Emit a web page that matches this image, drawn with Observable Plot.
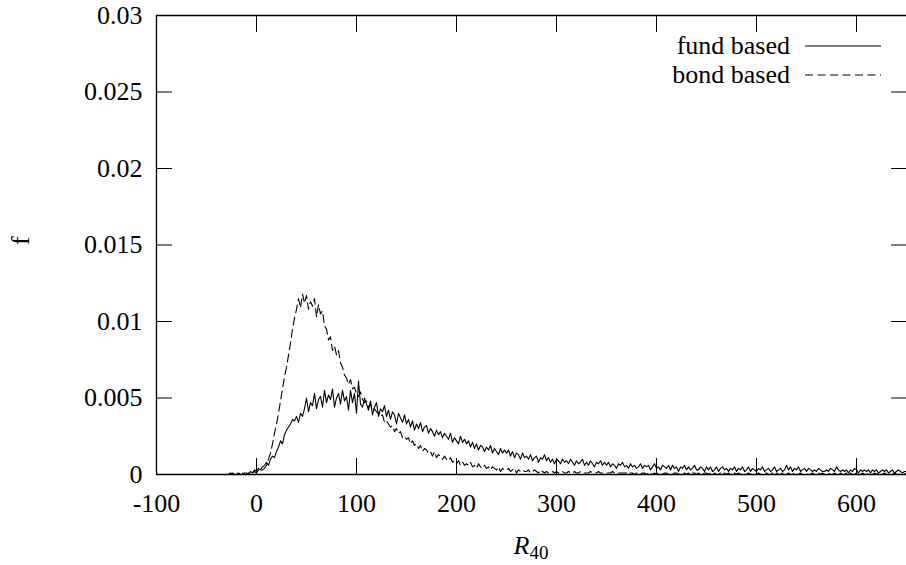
<!DOCTYPE html>
<html><head><meta charset="utf-8">
<script src="https://cdn.jsdelivr.net/npm/d3@7"></script>
<script src="https://cdn.jsdelivr.net/npm/@observablehq/plot@0.6"></script>
<style>
body{margin:0;background:#fff;}
#wrap{position:relative;width:906px;height:565px;}
#wrap svg text, #wrap svg tspan{font-family:'Liberation Serif', serif !important;}
</style></head><body><div id="wrap"></div>
<script>
// Histogram bins: R40 from -50 to 650 in steps of 2
const binStart = -50, binStep = 2;
// values in units of 1e-4
const fundBased = [
0,0,0,0,0,0,0,0,0,0,
0,0,1,0,0,0,1,0,0,1,
1,0,2,1,3,2,4,3,5,6,
8,6,10,12,11,15,18,22,20,26,
29,31,33,36,35,38,34,40,38,43,
50,41,47,45,53,43,49,51,44,55,
47,52,49,56,44,50,53,46,55,48,
51,42,55,47,53,40,61,46,44,50,
46,42,48,39,44,47,38,43,41,45,
38,42,36,41,39,33,40,37,34,39,
33,36,31,35,29,33,30,34,28,31,
32,27,30,28,25,29,26,28,24,27,
25,23,27,21,24,22,20,25,21,23,
20,22,18,21,17,20,16,19,18,15,
18,16,19,14,17,15,13,17,14,16,
14,16,12,15,11,14,13,10,14,11,
12,10,13,9,11,12,8,11,10,13,
9,11,8,10,7,10,9,7,10,8,
9,7,10,8,6,9,7,8,10,6,
8,6,9,7,5,8,7,9,6,8,
6,8,5,7,6,4,7,6,8,5,
6,4,7,5,6,4,5,7,4,6,
5,6,3,5,7,4,5,3,6,5,
4,6,3,6,4,5,2,5,4,6,
3,5,3,4,6,3,3,5,4,2,
5,3,5,2,3,5,2,4,5,3,
4,2,4,3,5,2,4,3,5,2,
3,5,2,4,3,2,4,3,5,2,
3,4,2,3,5,2,3,4,2,3,
6,3,5,2,4,3,5,2,3,4,
2,4,3,2,3,2,4,3,2,2,
3,2,4,3,2,5,3,2,3,2,
3,1,3,2,4,3,1,3,2,3,
2,3,1,3,2,3,1,2,3,2,
3,1,2,3,1,2,3,2,1,2,
2];
const bondBased = [
0,0,0,0,0,0,0,0,0,0,
0,0,0,1,0,0,0,0,1,0,
0,1,0,1,2,1,3,2,3,4,
6,10,14,20,27,33,40,48,56,64,
70,78,86,95,102,108,115,109,118,112,
117,108,113,110,115,103,111,105,107,97,
95,88,90,81,84,78,81,73,70,65,
63,59,62,56,57,53,51,54,49,47,
48,44,46,42,43,41,40,38,39,34,
35,33,31,32,28,30,27,28,24,25,
23,24,20,22,19,20,17,19,15,17,
16,14,15,12,15,11,13,12,10,12,
10,9,11,8,9,7,9,6,8,6,
7,6,8,5,6,4,7,5,4,6,
4,5,3,5,4,3,5,2,4,3,
3,4,2,3,4,1,3,2,3,2,
2,3,1,2,3,2,1,3,2,1,
2,1,2,2,1,2,1,2,2,1,
1,2,1,1,2,1,1,2,1,1,
1,1,2,1,1,1,2,1,1,1,
1,1,1,2,1,1,1,1,1,1,
1,0,1,1,0,1,1,0,1,1,
0,1,1,0,1,0,1,1,0,1,
1,0,1,0,1,1,0,1,0,1,
0,1,0,1,1,0,1,0,0,1,
1,0,1,0,1,0,0,1,0,1,
0,1,0,0,1,0,1,0,1,0,
0,1,0,1,0,0,1,0,0,1,
1,0,0,1,0,1,0,0,1,0,
0,1,0,0,1,0,0,1,0,0,
1,0,0,1,0,0,1,0,1,0,
0,1,0,0,1,0,0,1,0,0,
1,0,1,0,0,1,0,0,1,0,
0,1,0,0,1,0,1,0,0,1,
0,0,1,0,1,0,0,1,0,0,
1];
const unit = 1e-4;
const xTicks = [-100, 0, 100, 200, 300, 400, 500, 600];
const yTicks = [0, 0.005, 0.01, 0.015, 0.02, 0.025, 0.03];
const yTickLabels = ["0", "0.005", "0.01", "0.015", "0.02", "0.025", "0.03"];
const seriesNames = ["fund based", "bond based"];
const xLabel = {main: "R", sub: "40"};
const yLabel = "f";

const fund = fundBased.map((v, i) => ({x: binStart + i * binStep, y: v * unit}));
const bond = bondBased.map((v, i) => ({x: binStart + i * binStep, y: v * unit}));

const FONT = "Liberation Serif";
const chart = Plot.plot({
  width: 906, height: 565,
  marginLeft: 156, marginRight: 0, marginTop: 15, marginBottom: 91,
  style: {fontFamily: FONT, fontSize: "26px", background: "white", color: "#000", overflow: "visible"},
  x: {domain: [-100, 650], label: null},
  y: {domain: [0, 0.03], label: null},
  marks: [
    Plot.axisX(xTicks, {anchor: "bottom", tickSize: -16, tickFormat: () => "", label: null, strokeWidth: 1}),
    Plot.axisX(xTicks, {anchor: "top", tickSize: -16, tickFormat: () => "", label: null, strokeWidth: 1}),
    Plot.axisX(xTicks, {anchor: "bottom", tickSize: 0, tickPadding: 19, tickFormat: d => String(d), label: null, fontSize: 26, fontFamily: FONT}),
    Plot.axisY(yTicks, {anchor: "left", tickSize: -16, tickFormat: () => "", label: null, strokeWidth: 1}),
    Plot.axisY(yTicks, {anchor: "right", tickSize: -16, tickFormat: () => "", label: null, strokeWidth: 1}),
    Plot.axisY(yTicks, {anchor: "left", tickSize: 0, tickPadding: 14, tickFormat: d => yTickLabels[yTicks.indexOf(d)], label: null, fontSize: 26, fontFamily: FONT}),
    Plot.lineY(bond, {x: "x", y: "y", stroke: "#000", strokeWidth: 1.1, strokeDasharray: "8,4.5"}),
    Plot.lineY(fund, {x: "x", y: "y", stroke: "#000", strokeWidth: 1.1}),
    Plot.ruleX([-100], {stroke: "#000", strokeWidth: 1.3}),
    Plot.ruleY([0, 0.03], {stroke: "#000", strokeWidth: 1.3}),
    Plot.text([yLabel], {text: d => d, frameAnchor: "left", dx: -136, rotate: -90, fontSize: 26, fontFamily: FONT})
  ]
});
document.getElementById("wrap").appendChild(chart);

// x-axis label with subscript, and legend
const svg = d3.select(chart);
const xs = chart.scale("x");
const cx = (xs.apply(-100) + xs.apply(650)) / 2;
const xl = svg.append("text").attr("x", cx).attr("y", 554).attr("text-anchor", "middle")
  .attr("font-family", FONT).attr("font-size", 26).attr("fill", "#000");
xl.append("tspan").attr("font-style", "italic").text(xLabel.main);
xl.append("tspan").attr("font-size", 19).attr("dy", 5).text(xLabel.sub);

const leg = svg.append("g").attr("font-family", FONT).attr("font-size", 26).attr("fill", "#000");
seriesNames.forEach((name, i) => {
  const yy = 46 + i * 29;
  leg.append("text").attr("x", 790).attr("y", yy + 8).attr("text-anchor", "end").text(name);
  leg.append("line").attr("x1", 805).attr("x2", 881).attr("y1", yy).attr("y2", yy)
    .attr("stroke", "#000").attr("stroke-width", 1.2)
    .attr("stroke-dasharray", i === 1 ? "8,4.5" : null);
});
</script></body></html>
